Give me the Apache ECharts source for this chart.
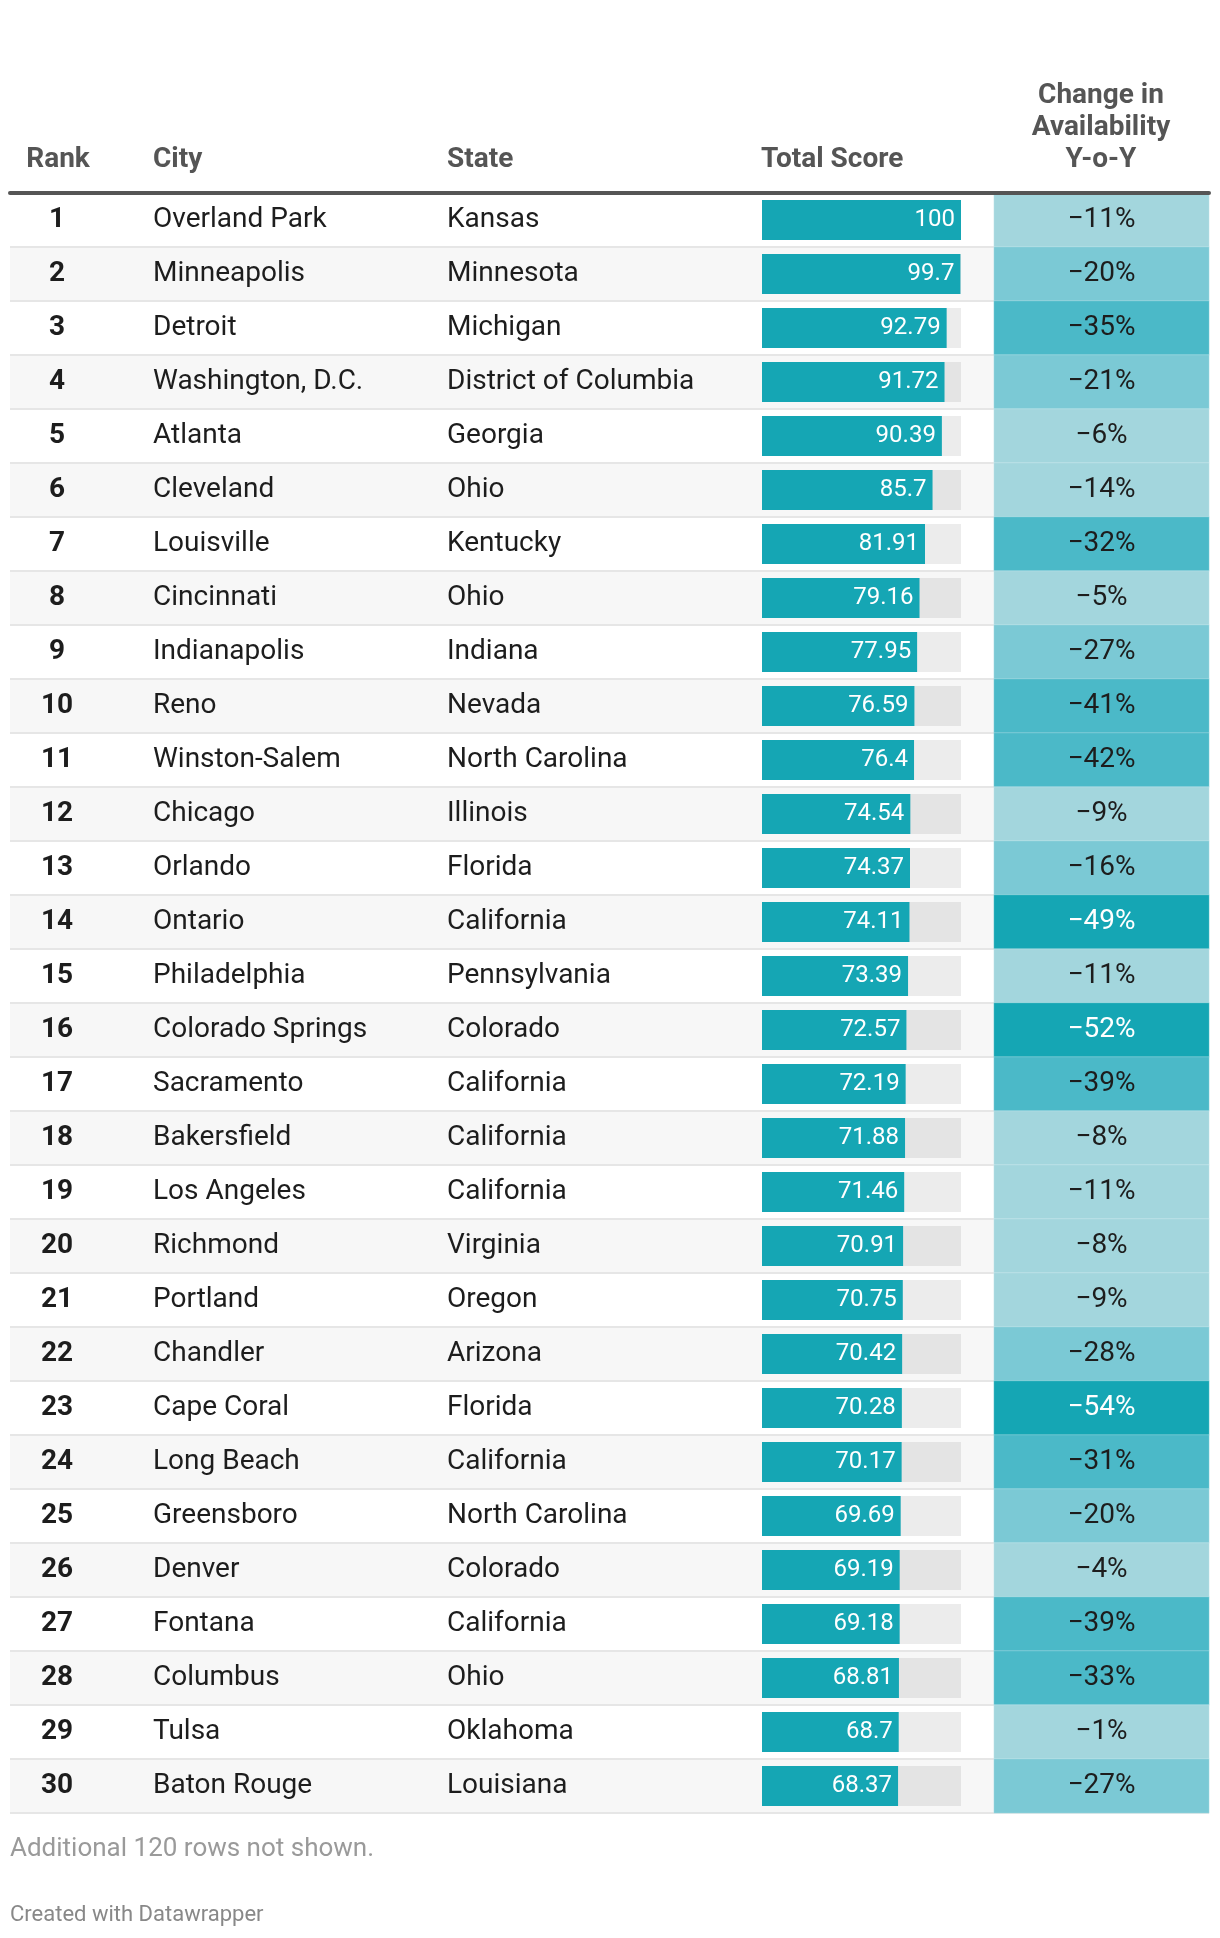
<!DOCTYPE html>
<html>
<head>
<meta charset="utf-8">
<script src="https://cdn.jsdelivr.net/npm/echarts@6/dist/echarts.min.js"></script>
<style>
html,body{margin:0;padding:0;background:#fff;}
#chart{width:1220px;height:1938px;}
</style>
</head>
<body>
<div id="chart"></div>
<script>
const ranks = ['1','2','3','4','5','6','7','8','9','10','11','12','13','14','15','16','17','18','19','20','21','22','23','24','25','26','27','28','29','30'];
const cities = ['Overland Park','Minneapolis','Detroit','Washington, D.C.','Atlanta','Cleveland','Louisville','Cincinnati','Indianapolis','Reno','Winston-Salem','Chicago','Orlando','Ontario','Philadelphia','Colorado Springs','Sacramento','Bakersfield','Los Angeles','Richmond','Portland','Chandler','Cape Coral','Long Beach','Greensboro','Denver','Fontana','Columbus','Tulsa','Baton Rouge'];
const states = ['Kansas','Minnesota','Michigan','District of Columbia','Georgia','Ohio','Kentucky','Ohio','Indiana','Nevada','North Carolina','Illinois','Florida','California','Pennsylvania','Colorado','California','California','California','Virginia','Oregon','Arizona','Florida','California','North Carolina','Colorado','California','Ohio','Oklahoma','Louisiana'];
const scores = [100,99.7,92.79,91.72,90.39,85.7,81.91,79.16,77.95,76.59,76.4,74.54,74.37,74.11,73.39,72.57,72.19,71.88,71.46,70.91,70.75,70.42,70.28,70.17,69.69,69.19,69.18,68.81,68.7,68.37];
const changes = [-11,-20,-35,-21,-6,-14,-32,-5,-27,-41,-42,-9,-16,-49,-11,-52,-39,-8,-11,-8,-9,-28,-54,-31,-20,-4,-39,-33,-1,-27];
const headers = ['Rank','City','State','Total Score'];
const changeHeader = ['Change in','Availability','Y-o-Y'];
const footNote = 'Additional 120 rows not shown.';
const credit = 'Created with Datawrapper';

const FONT = 'Roboto, "Noto Sans", sans-serif';
const TOP = 193, H = 1620;
const idx = ranks.map((_, i) => i);

function hiddenX(gi, extra) {
  return Object.assign({gridIndex: gi, type: 'value', show: false}, extra || {});
}
function textY(gi, data, label) {
  return {
    gridIndex: gi, type: 'category', data: data, inverse: true,
    axisLine: {show: false}, axisTick: {show: false}, splitLine: {show: false},
    axisLabel: Object.assign({margin: 0, fontFamily: FONT, fontSize: 28, color: '#1d1d1d',
      verticalAlign: 'middle', padding: [11, 0, 0, 0]}, label)
  };
}
const headFont = 'bold 28px ' + FONT;

const chart = echarts.init(document.getElementById('chart'), null, {renderer: 'canvas'});
const option = {
  animation: false,
  backgroundColor: '#ffffff',
  textStyle: {fontFamily: FONT},
  grid: [
    {left: 10, top: TOP, width: 1199, height: H},
    {left: 57, top: TOP, width: 1, height: H},
    {left: 153, top: TOP, width: 250, height: H},
    {left: 447, top: TOP, width: 250, height: H},
    {left: 762, top: TOP, width: 199, height: H},
    {left: 994, top: TOP, width: 215, height: H}
  ],
  xAxis: [
    {gridIndex: 0, type: 'value', position: 'top', min: 0, max: 1, z: 10,
      axisLine: {show: true, lineStyle: {color: '#555555', width: 4}},
      axisTick: {show: false}, axisLabel: {show: false}, splitLine: {show: false}},
    hiddenX(1), hiddenX(2), hiddenX(3),
    hiddenX(4, {min: 0, max: 100}),
    {gridIndex: 5, type: 'category', data: ['chg'], show: false}
  ],
  yAxis: [
    {gridIndex: 0, type: 'category', data: idx, inverse: true,
      axisLine: {show: false}, axisTick: {show: false}, axisLabel: {show: false},
      splitArea: {show: true, areaStyle: {color: ['#ffffff', '#f7f7f7']}},
      splitLine: {show: true, lineStyle: {color: '#e6e6e6', width: 2}}},
    textY(1, ranks, {align: 'center', fontWeight: 'bold', color: '#1d1d1d'}),
    textY(2, cities, {inside: true, align: 'left'}),
    textY(3, states, {inside: true, align: 'left'}),
    {gridIndex: 4, type: 'category', data: idx, inverse: true, show: false},
    {gridIndex: 5, type: 'category', data: idx, inverse: true, show: false}
  ],
  visualMap: {
    show: false, type: 'piecewise', seriesIndex: 1, dimension: 2,
    pieces: [
      {lt: -45, color: '#15a6b4'},
      {gte: -45, lt: -30, color: '#4bb9c8'},
      {gte: -30, lt: -15, color: '#7bc9d5'},
      {gte: -15, color: '#a3d6dd'}
    ]
  },
  series: [
    {
      type: 'bar', xAxisIndex: 4, yAxisIndex: 4, data: scores, barWidth: 40,
      itemStyle: {color: '#15a6b4'},
      showBackground: true, backgroundStyle: {color: 'rgba(0,0,0,0.075)'},
      label: {show: true, position: 'insideRight', distance: 6, color: '#ffffff',
        fontFamily: FONT, fontSize: 24, padding: [9, 0, 0, 0],
        formatter: p => String(p.value)}
    },
    {
      type: 'heatmap', xAxisIndex: 5, yAxisIndex: 5,
      data: changes.map((v, i) => ({
        value: [0, i, v],
        label: {color: v < -45 ? '#ffffff' : '#1d1d1d'}
      })),
      itemStyle: {borderColor: 'rgba(255,255,255,0.25)', borderWidth: 1},
      label: {show: true, fontFamily: FONT, fontSize: 28, padding: [11, 0, 0, 0],
        formatter: p => '\u2212' + Math.abs(p.value[2]) + '%'}
    }
  ],
  graphic: [
    {type: 'text', x: 58, y: 160, style: {text: headers[0], font: headFont, fill: '#555555', textAlign: 'center', textVerticalAlign: 'middle'}},
    {type: 'text', x: 153, y: 160, style: {text: headers[1], font: headFont, fill: '#555555', textVerticalAlign: 'middle'}},
    {type: 'text', x: 447, y: 160, style: {text: headers[2], font: headFont, fill: '#555555', textVerticalAlign: 'middle'}},
    {type: 'text', x: 761, y: 160, style: {text: headers[3], font: headFont, fill: '#555555', textVerticalAlign: 'middle'}},
    {type: 'text', x: 1101, y: 96, style: {text: changeHeader[0], font: headFont, fill: '#555555', textAlign: 'center', textVerticalAlign: 'middle'}},
    {type: 'text', x: 1101, y: 128, style: {text: changeHeader[1], font: headFont, fill: '#555555', textAlign: 'center', textVerticalAlign: 'middle'}},
    {type: 'text', x: 1101, y: 160, style: {text: changeHeader[2], font: headFont, fill: '#555555', textAlign: 'center', textVerticalAlign: 'middle'}},
    {type: 'text', x: 10, y: 1849, style: {text: footNote, font: '26px ' + FONT, fill: '#9a9a9a', textVerticalAlign: 'middle'}},
    {type: 'text', x: 10, y: 1915, style: {text: credit, font: '22px ' + FONT, fill: '#888888', textVerticalAlign: 'middle'}}
  ]
};
chart.setOption(option);
</script>
</body>
</html>
